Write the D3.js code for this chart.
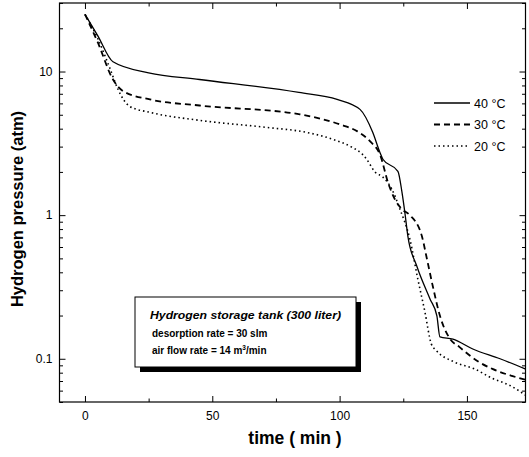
<!DOCTYPE html>
<html><head><meta charset="utf-8">
<script src="https://cdn.jsdelivr.net/npm/d3@7"></script>
<style>body{margin:0;background:#fff}svg{display:block}</style>
</head><body>
<svg id="c" width="529" height="457"></svg>
<script>
// ---- data ----
const seriesNames = ["40 °C", "30 °C", "20 °C"];
const t40 = [0, 5, 11, 25, 45, 84, 99, 108, 113, 115.8, 117, 122.9, 124.5, 125.6, 126.8, 130.3, 135.5, 138.2, 139.4, 144.5, 152.3, 163, 173.5];
const p40 = [25, 17.8, 11.7, 9.8, 8.8, 7.15, 6.4, 5.45, 3.77, 2.74, 2.45, 2.02, 1.44, 1.05, 0.715, 0.443, 0.261, 0.199, 0.142, 0.137, 0.117, 0.1, 0.084];
const t30 = [0, 5, 11, 15, 25.5, 45, 84.4, 100, 107, 112, 116, 119, 121.7, 124.5, 127.6, 132.3, 134.3, 136.6, 139.4, 143.3, 147, 154.7, 160, 167.6, 173.5];
const p30 = [25, 16, 8.8, 7.3, 6.4, 5.8, 5.03, 4.29, 3.83, 3.26, 2.6, 1.69, 1.29, 1.1, 1.0, 0.715, 0.495, 0.32, 0.199, 0.138, 0.121, 0.095, 0.085, 0.076, 0.071];
const t20 = [0, 5, 10, 13, 17.7, 25.5, 45, 71.5, 87, 97.4, 105, 109, 110.6, 114, 117, 120.5, 123.7, 127.6, 130.7, 133.5, 136, 138, 145, 153, 160, 167, 173.5];
const p20 = [25, 17, 10.3, 7.5, 5.7, 5.2, 4.57, 4.08, 3.77, 3.37, 2.96, 2.65, 2.45, 1.99, 1.84, 1.52, 1.1, 0.68, 0.36, 0.212, 0.127, 0.114, 0.095, 0.085, 0.073, 0.065, 0.055];
const xTicks = [0, 50, 100, 150];
const xMinor = [25, 75, 125];
const yTicks = [0.1, 1, 10];
const yTickLabels = ["0.1", "1", "10"];
const infoLines = ["Hydrogen storage tank (300 liter)", "desorption rate = 30 slm", "air flow rate = 14 m"];

// ---- layout ----
const svg = d3.select("#c");
const L = 59.5, R = 525.5, T = 3, B = 402;
const x = d3.scaleLinear().domain([-10, 173]).range([L, R]);
const y = d3.scaleLog().domain([0.05, 30]).range([B, T]);
const font = "'Liberation Sans', Arial, Helvetica, sans-serif";

const yMinor = [];
[0.01, 0.1, 1, 10].forEach(d => { for (let k = 2; k <= 9; k++) { const v = d * k; if (v >= 0.05 && v <= 30) yMinor.push(v); } });

const g = svg.append("g");
function styleAxis(sel) {
  sel.select(".domain").remove();
  sel.selectAll("line").attr("stroke", "#000").attr("stroke-width", 1);
  sel.selectAll("text").attr("font-family", font).attr("font-size", 12).attr("fill", "#000");
}
g.append("g").attr("transform", `translate(${L},0)`).call(d3.axisLeft(y).tickValues(yTicks).tickSize(-6).tickPadding(7).tickFormat((d, i) => yTickLabels[i])).call(styleAxis);
g.append("g").attr("transform", `translate(${L},0)`).call(d3.axisLeft(y).tickValues(yMinor).tickSize(-3.5).tickFormat("")).call(styleAxis);
g.append("g").attr("transform", `translate(${R},0)`).call(d3.axisRight(y).tickValues(yTicks).tickSize(-6).tickFormat("")).call(styleAxis);
g.append("g").attr("transform", `translate(${R},0)`).call(d3.axisRight(y).tickValues(yMinor).tickSize(-3.5).tickFormat("")).call(styleAxis);
g.append("g").attr("transform", `translate(0,${B})`).call(d3.axisBottom(x).tickValues(xTicks).tickSize(-6).tickPadding(9).tickFormat(d3.format("d"))).call(styleAxis);
g.append("g").attr("transform", `translate(0,${B})`).call(d3.axisBottom(x).tickValues(xMinor).tickSize(-3.5).tickFormat("")).call(styleAxis);
g.append("g").attr("transform", `translate(0,${T})`).call(d3.axisTop(x).tickValues(xTicks).tickSize(-6).tickFormat("")).call(styleAxis);
g.append("g").attr("transform", `translate(0,${T})`).call(d3.axisTop(x).tickValues(xMinor).tickSize(-3.5).tickFormat("")).call(styleAxis);

svg.append("rect").attr("x", L).attr("y", T).attr("width", R - L).attr("height", B - T)
  .attr("fill", "none").attr("stroke", "#000").attr("stroke-width", 1.2);

svg.append("clipPath").attr("id", "pc").append("rect").attr("x", L).attr("y", T).attr("width", R - L).attr("height", B - T);
const line = d3.line().x(d => x(d[0])).y(d => y(d[1])).curve(d3.curveMonotoneX);
const styles = [
  { w: 1.3, dash: null },
  { w: 1.8, dash: "6,4" },
  { w: 1.6, dash: "1.5,3" }
];
const series = [[t40, p40], [t30, p30], [t20, p20]];
series.forEach(([ts, ps], i) => {
  const data = ts.map((t, j) => [t, ps[j]]);
  svg.append("path").datum(data).attr("d", line).attr("fill", "none").attr("stroke", "#000")
    .attr("stroke-width", styles[i].w).attr("stroke-dasharray", styles[i].dash).attr("clip-path", "url(#pc)");
});

seriesNames.forEach((n, i) => {
  const yy = 103 + i * 21.5;
  svg.append("line").attr("x1", 434).attr("x2", 470).attr("y1", yy).attr("y2", yy)
    .attr("stroke", "#000").attr("stroke-width", styles[i].w).attr("stroke-dasharray", styles[i].dash);
  svg.append("text").attr("x", 474).attr("y", yy + 4.5).text(n)
    .attr("font-family", font).attr("font-size", 12.5).attr("fill", "#000");
});

const bx = 135, by = 297, bw = 221, bh = 70;
svg.append("rect").attr("x", bx + 5).attr("y", by + 5).attr("width", bw).attr("height", bh).attr("fill", "#000");
svg.append("rect").attr("x", bx).attr("y", by).attr("width", bw).attr("height", bh).attr("fill", "#fff").attr("stroke", "#000").attr("stroke-width", 1);
svg.append("text").attr("x", 150).attr("y", 319).text(infoLines[0])
  .attr("font-family", font).attr("font-size", 11.5).attr("font-style", "italic").attr("font-weight", "bold")
  .attr("textLength", 191).attr("lengthAdjust", "spacingAndGlyphs");
svg.append("text").attr("x", 152).attr("y", 337).text(infoLines[1])
  .attr("font-family", font).attr("font-size", 10).attr("font-weight", "bold");
const t3 = svg.append("text").attr("x", 152).attr("y", 354)
  .attr("font-family", font).attr("font-size", 10).attr("font-weight", "bold");
t3.append("tspan").text(infoLines[2]);
t3.append("tspan").text("3").attr("font-size", 6.5).attr("dy", -4);
t3.append("tspan").text("/min").attr("dy", 4);

svg.append("text").attr("x", 295).attr("y", 444).attr("text-anchor", "middle").text("time ( min )")
  .attr("font-family", font).attr("font-size", 17.5).attr("font-weight", "bold");
svg.append("text").attr("transform", "translate(23,209) rotate(-90)").attr("text-anchor", "middle").text("Hydrogen pressure (atm)")
  .attr("font-family", font).attr("font-size", 16.5).attr("font-weight", "bold");
</script>
</body></html>
